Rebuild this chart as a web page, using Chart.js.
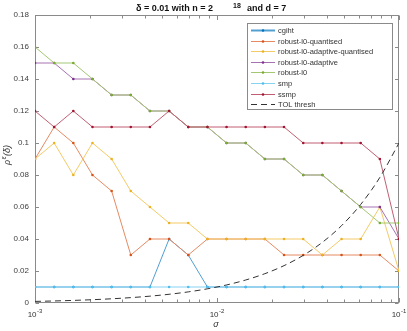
<!DOCTYPE html>
<html><head><meta charset="utf-8">
<script src="https://cdn.jsdelivr.net/npm/chart.js@4/dist/chart.umd.min.js"></script>
<style>html,body{margin:0;padding:0;background:#fff}#wrap{width:407px;height:331px}</style>
</head><body>
<div id="wrap"><canvas id="c" width="407" height="331"></canvas></div>
<script>
// ---- data ----
const sigma = [0.001, 0.0012743, 0.0016238, 0.0020691, 0.0026367, 0.0033598, 0.0042813, 0.0054556, 0.0069519, 0.0088587,
               0.011288, 0.014384, 0.018330, 0.023357, 0.029764, 0.037927, 0.048329, 0.061585, 0.078476, 0.1];
const cgiht      = [0.01,0.01,0.01,0.01,0.01,0.01,0.01,0.04,0.03,0.01,0.01,0.01,0.01,0.01,0.01,0.01,0.01,0.01,0.01,0.01];
const robustQ    = [0.09,0.11,0.10,0.08,0.07,0.03,0.04,0.04,0.03,0.04,0.04,0.04,0.04,0.03,0.03,0.03,0.03,0.03,0.03,0.02];
const robustAQ   = [0.09,0.10,0.08,0.10,0.09,0.07,0.06,0.05,0.05,0.04,0.04,0.04,0.04,0.04,0.04,0.03,0.04,0.04,0.06,0.02];
const robustA    = [0.15,0.15,0.14,0.14,0.13,0.13,0.12,0.12,0.11,0.11,0.10,0.10,0.09,0.09,0.08,0.08,0.07,0.06,0.06,0.04];
const robust     = [0.16,0.15,0.15,0.14,0.13,0.13,0.12,0.12,0.11,0.11,0.10,0.10,0.09,0.09,0.08,0.08,0.07,0.06,0.05,0.05];
const smp        = [0.01,0.01,0.01,0.01,0.01,0.01,0.01,0.01,0.01,0.01,0.01,0.01,0.01,0.01,0.01,0.01,0.01,0.01,0.01,0.01];
const ssmp       = [0.12,0.11,0.12,0.11,0.11,0.11,0.11,0.12,0.11,0.11,0.11,0.11,0.11,0.11,0.10,0.10,0.10,0.10,0.09,0.04];
const tolThresh  = [0.001, 0.0012743, 0.0016238, 0.0020691, 0.0026367, 0.0033598, 0.0042813, 0.0054556, 0.0069519, 0.0088587,
               0.011288, 0.014384, 0.018330, 0.023357, 0.029764, 0.037927, 0.048329, 0.061585, 0.078476, 0.1];
const seriesNames = ['cgiht','robust-l0-quantised','robust-l0-adaptive-quantised','robust-l0-adaptive','robust-l0','smp','ssmp','TOL thresh'];
const yTicks = [0,0.02,0.04,0.06,0.08,0.1,0.12,0.14,0.16,0.18];
const yTickLabels = ['0','0.02','0.04','0.06','0.08','0.1','0.12','0.14','0.16','0.18'];
const xMajorTicks = [0.001, 0.01, 0.1];
const xMajorExp = ['-3','-2','-1'];
const xMinorTicks = [0.002,0.003,0.004,0.005,0.006,0.007,0.008,0.009,0.02,0.03,0.04,0.05,0.06,0.07,0.08,0.09];

// ---- styling ----
const FONT = '"Liberation Sans", Arial, Helvetica, sans-serif';
const rgb = {
  cgiht:[0,114,189], q:[217,83,25], aq:[237,177,32], a:[126,47,142], r:[119,172,48], smp:[77,190,238], ssmp:[162,20,47]
};
const la = 0.68;
const lc = c => `rgb(${c.map(v => Math.round(v*la + 255*(1-la))).join(',')})`;
const pc = c => `rgb(${c[0]},${c[1]},${c[2]})`;
const pts = arr => arr.map((v,i)=>({x:sigma[i], y:v}));
const allSeries = [cgiht, robustQ, robustAQ, robustA, robust, smp, ssmp];
const cols = [rgb.cgiht, rgb.q, rgb.aq, rgb.a, rgb.r, rgb.smp, rgb.ssmp];
const datasets = allSeries.map((s,i)=>({
  label: seriesNames[i], data: pts(s),
  borderColor: lc(cols[i]), backgroundColor: pc(cols[i]),
  pointBackgroundColor: pc(cols[i]), pointBorderWidth: 0, pointRadius: 1.3,
  borderWidth: 1, tension: 0, fill: false, order: 20 - i
}));
datasets.push({
  label: seriesNames[7], data: pts(tolThresh),
  borderColor: '#333', borderDash: [6,4], borderWidth: 1, pointRadius: 0,
  cubicInterpolationMode: 'monotone', fill: false, order: 1
});

const frame = {
  id: 'frame',
  beforeDatasetsDraw(chart) {
    const {ctx, chartArea: a, scales: {x, y}} = chart;
    ctx.save();
    ctx.strokeStyle = '#8a8a8a'; ctx.lineWidth = 1;
    const L = Math.round(a.left)+0.5, R = Math.round(a.right)-0.5, T = Math.round(a.top)+0.5, B = Math.round(a.bottom)-0.5;
    ctx.strokeRect(L, T, R-L, B-T);
    ctx.beginPath();
    yTicks.forEach(v => {
      const py = Math.round(y.getPixelForValue(v))+0.5;
      ctx.moveTo(L, py); ctx.lineTo(L+3.5, py);
      ctx.moveTo(R, py); ctx.lineTo(R-3.5, py);
    });
    xMajorTicks.forEach(v => {
      const px = Math.round(x.getPixelForValue(v))+0.5;
      ctx.moveTo(px, B); ctx.lineTo(px, B-4.5);
      ctx.moveTo(px, T); ctx.lineTo(px, T+4.5);
    });
    xMinorTicks.forEach(v => {
      const px = Math.round(x.getPixelForValue(v))+0.5;
      ctx.moveTo(px, B); ctx.lineTo(px, B-3);
      ctx.moveTo(px, T); ctx.lineTo(px, T+3);
    });
    ctx.stroke();
    ctx.restore();
  },
  afterDraw(chart) {
    const {ctx, chartArea: a, scales: {x}} = chart;
    ctx.save();
    ctx.fillStyle = '#333';
    ctx.textBaseline = 'alphabetic';
    // x tick labels 10^k
    xMajorTicks.forEach((v,i) => {
      const px = x.getPixelForValue(v);
      ctx.font = '8px ' + FONT;
      const w1 = ctx.measureText('10').width;
      ctx.font = '6px ' + FONT;
      const w2 = ctx.measureText(xMajorExp[i]).width;
      const x0 = px - (w1 + w2 + 0.5)/2;
      ctx.textAlign = 'left';
      ctx.font = '8px ' + FONT;
      ctx.fillText('10', x0, a.bottom + 14);
      ctx.font = '6px ' + FONT;
      ctx.fillText(xMajorExp[i], x0 + w1 + 0.5, a.bottom + 10);
    });
    // x axis title
    ctx.textAlign = 'center';
    ctx.font = 'italic 9px ' + FONT;
    ctx.fillText('σ', (a.left + a.right)/2 - 1, a.bottom + 24);
    // y axis title
    ctx.save();
    ctx.translate(10, (a.top + a.bottom)/2 - 4);
    ctx.rotate(-Math.PI/2);
    ctx.font = 'italic 9px ' + FONT;
    const p1 = 'ρ', p3 = '(δ)';
    const w1 = ctx.measureText(p1).width, w3 = ctx.measureText(p3).width;
    ctx.font = 'italic 6.5px ' + FONT;
    const w2 = ctx.measureText('ε').width;
    let sx = -(w1 + w2 + w3 + 1)/2;
    ctx.textAlign = 'left';
    ctx.font = 'italic 9px ' + FONT; ctx.fillText(p1, sx, 0); sx += w1 + 0.5;
    ctx.font = 'italic 6.5px ' + FONT; ctx.fillText('ε', sx, -4); sx += w2 + 0.5;
    ctx.font = 'italic 9px ' + FONT; ctx.fillText(p3, sx, 0);
    ctx.restore();
    // title
    const cx = (a.left + a.right)/2;
    ctx.fillStyle = '#111';
    ctx.font = 'bold 9px ' + FONT;
    ctx.textAlign = 'right';
    ctx.fillText('δ = 0.01 with n = 2', cx - 4, 11);
    ctx.textAlign = 'left';
    ctx.font = 'bold 7px ' + FONT;
    ctx.fillText('18', cx + 16, 7.5);
    ctx.font = 'bold 9px ' + FONT;
    ctx.fillText('and d = 7', cx + 30, 11);
    // legend
    const ds = chart.data.datasets;
    const bx = a.right - 152, by = a.top + 8, bw = 145, bh = 86;
    ctx.fillStyle = '#fff';
    ctx.fillRect(bx, by, bw, bh);
    ctx.strokeStyle = '#8a8a8a'; ctx.lineWidth = 1;
    ctx.strokeRect(Math.round(bx)+0.5, Math.round(by)+0.5, bw, bh);
    ctx.font = '7.5px ' + FONT;
    ctx.textBaseline = 'middle';
    ds.forEach((d, i) => {
      const ry = Math.round(by + 7 + i*10.6) + 0.5;
      ctx.save();
      ctx.strokeStyle = d.borderColor; ctx.lineWidth = (i === 0 ? 2 : 1);
      ctx.setLineDash(d.borderDash || []);
      ctx.beginPath(); ctx.moveTo(bx + 4, ry); ctx.lineTo(bx + 28, ry); ctx.stroke();
      ctx.restore();
      if (d.pointRadius > 0) {
        ctx.fillStyle = d.pointBackgroundColor;
        ctx.beginPath(); ctx.arc(bx + 16, ry, 1.3, 0, Math.PI*2); ctx.fill();
      }
      ctx.fillStyle = '#333';
      ctx.textAlign = 'left';
      ctx.fillText(d.label, bx + 31, ry);
    });
    ctx.restore();
  }
};

new Chart(document.getElementById('c'), {
  type: 'line',
  data: { datasets },
  options: {
    responsive: false, animation: false, devicePixelRatio: 1,
    layout: { padding: { top: 15, right: 8, left: 0, bottom: 0 } },
    plugins: { legend: { display: false }, title: { display: false }, tooltip: { enabled: false } },
    scales: {
      x: {
        type: 'logarithmic', min: 0.001, max: 0.1,
        grid: { display: false, drawTicks: false }, border: { display: false },
        ticks: { display: false },
        afterBuildTicks: s => { s.ticks = xMajorTicks.map(v => ({ value: v })); },
        afterFit: s => { s.height = 28; }
      },
      y: {
        type: 'linear', min: 0, max: 0.18,
        grid: { display: false, drawTicks: false }, border: { display: false },
        ticks: { padding: 6, color: '#404040', font: { size: 8, family: FONT },
                 callback: (v, i) => yTickLabels[i] },
        afterBuildTicks: s => { s.ticks = yTicks.map(v => ({ value: v })); },
        afterFit: s => { s.width = 35; }
      }
    }
  },
  plugins: [frame]
});
</script>
</body></html>
